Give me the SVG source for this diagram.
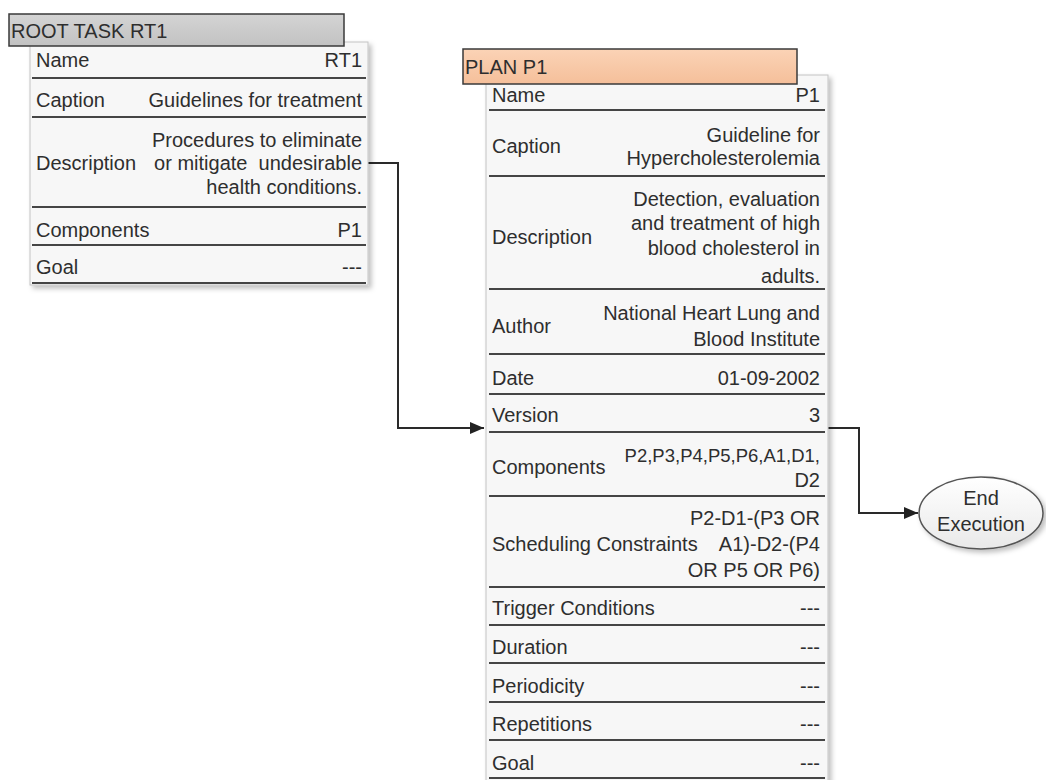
<svg xmlns="http://www.w3.org/2000/svg" width="1046" height="780" viewBox="0 0 1046 780">
<defs>
<style>
text{font-family:"Liberation Sans",Arial,sans-serif;font-size:20px;fill:#2e2e2e}
.v{text-anchor:end}
.m{text-anchor:middle}
.s{font-size:18.5px}
.body{fill:#f7f7f7;stroke:#c4c4c4;stroke-width:1}
.sep{stroke:#454545;stroke-width:2}
.hdr{stroke:#3a3a3a;stroke-width:1.5}
.conn{fill:none;stroke:#2a2a2a;stroke-width:2}
</style>
<linearGradient id="gGray" x1="0" y1="0" x2="0" y2="1"><stop offset="0" stop-color="#d4d4d4"/><stop offset="1" stop-color="#c2c2c2"/></linearGradient>
<linearGradient id="gOrange" x1="0" y1="0" x2="0" y2="1"><stop offset="0" stop-color="#fbd3b6"/><stop offset="1" stop-color="#f5bf9a"/></linearGradient>
<linearGradient id="gEll" x1="0" y1="0" x2="0" y2="1"><stop offset="0" stop-color="#ffffff"/><stop offset="1" stop-color="#e9e9e9"/></linearGradient>
<filter id="sh" x="-10%" y="-10%" width="130%" height="130%"><feDropShadow dx="3" dy="3" stdDeviation="2.5" flood-color="#000" flood-opacity="0.25"/></filter>
<marker id="arr" viewBox="0 0 14 12" refX="14" refY="6" markerWidth="14" markerHeight="12" markerUnits="userSpaceOnUse" orient="auto"><path d="M0,0 L14,6 L0,12 z" fill="#222"/></marker>
</defs>

<g id="connectors">
<path class="conn" d="M368,163 H398 V428 H484" marker-end="url(#arr)"/>
<path class="conn" d="M828,428 H859 V513 H918" marker-end="url(#arr)"/>
</g>

<g id="rootTask">
<rect class="body" x="30" y="42" width="338" height="243" filter="url(#sh)"/>
<rect class="hdr" x="9" y="14" width="335" height="32" fill="url(#gGray)"/>
<text x="11" y="38">ROOT TASK RT1</text>
<line class="sep" x1="32" y1="78" x2="366" y2="78"/>
<line class="sep" x1="32" y1="117" x2="366" y2="117"/>
<line class="sep" x1="32" y1="207" x2="366" y2="207"/>
<line class="sep" x1="32" y1="245" x2="366" y2="245"/>
<line class="sep" x1="32" y1="283" x2="366" y2="283"/>
<text x="36" y="67">Name</text><text class="v" x="362" y="67">RT1</text>
<text x="36" y="107">Caption</text><text class="v" x="362" y="107">Guidelines for treatment</text>
<text x="36" y="170">Description</text>
<text class="v" x="362" y="147">Procedures to eliminate</text>
<text class="v" x="362" y="170" xml:space="preserve">or mitigate  undesirable</text>
<text class="v" x="362" y="194">health conditions.</text>
<text x="36" y="237">Components</text><text class="v" x="362" y="237">P1</text>
<text x="36" y="274">Goal</text><text class="v" x="362" y="274">---</text>
</g>

<g id="planP1">
<rect class="body" x="486" y="75" width="342" height="710" fill="#f9f9f9" filter="url(#sh)"/>
<rect class="hdr" x="463" y="49" width="334" height="35" fill="url(#gOrange)"/>
<text x="465" y="74">PLAN P1</text>
<line class="sep" x1="489" y1="110" x2="825" y2="110"/>
<line class="sep" x1="489" y1="176" x2="825" y2="176"/>
<line class="sep" x1="489" y1="289" x2="825" y2="289"/>
<line class="sep" x1="489" y1="354" x2="825" y2="354"/>
<line class="sep" x1="489" y1="394" x2="825" y2="394"/>
<line class="sep" x1="489" y1="432" x2="825" y2="432"/>
<line class="sep" x1="489" y1="496" x2="825" y2="496"/>
<line class="sep" x1="489" y1="587" x2="825" y2="587"/>
<line class="sep" x1="489" y1="625" x2="825" y2="625"/>
<line class="sep" x1="489" y1="663" x2="825" y2="663"/>
<line class="sep" x1="489" y1="702" x2="825" y2="702"/>
<line class="sep" x1="489" y1="740" x2="825" y2="740"/>
<line class="sep" x1="489" y1="778" x2="825" y2="778"/>
<text x="492" y="102">Name</text><text class="v" x="820" y="102">P1</text>
<text x="492" y="153">Caption</text>
<text class="v" x="820" y="142">Guideline for</text>
<text class="v" x="820" y="165">Hypercholesterolemia</text>
<text x="492" y="244">Description</text>
<text class="v" x="820" y="206">Detection, evaluation</text>
<text class="v" x="820" y="230">and treatment of high</text>
<text class="v" x="820" y="255">blood cholesterol in</text>
<text class="v" x="820" y="283">adults.</text>
<text x="492" y="333">Author</text>
<text class="v" x="820" y="320">National Heart Lung and</text>
<text class="v" x="820" y="346">Blood Institute</text>
<text x="492" y="385">Date</text><text class="v" x="820" y="385">01-09-2002</text>
<text x="492" y="422">Version</text><text class="v" x="820" y="422">3</text>
<text x="492" y="474">Components</text>
<text class="v s" x="820" y="462">P2,P3,P4,P5,P6,A1,D1,</text>
<text class="v" x="820" y="487">D2</text>
<text x="492" y="551">Scheduling Constraints</text>
<text class="v" x="820" y="525">P2-D1-(P3 OR</text>
<text class="v" x="820" y="551">A1)-D2-(P4</text>
<text class="v" x="820" y="577">OR P5 OR P6)</text>
<text x="492" y="615">Trigger Conditions</text><text class="v" x="820" y="615">---</text>
<text x="492" y="654">Duration</text><text class="v" x="820" y="654">---</text>
<text x="492" y="693">Periodicity</text><text class="v" x="820" y="693">---</text>
<text x="492" y="731">Repetitions</text><text class="v" x="820" y="731">---</text>
<text x="492" y="770">Goal</text><text class="v" x="820" y="770">---</text>
</g>

<g id="endExecution">
<ellipse cx="981" cy="513" rx="62" ry="36" fill="url(#gEll)" stroke="#555" stroke-width="1.5" filter="url(#sh)"/>
<text class="m" x="981" y="505">End</text>
<text class="m" x="981" y="531">Execution</text>
</g>
</svg>
